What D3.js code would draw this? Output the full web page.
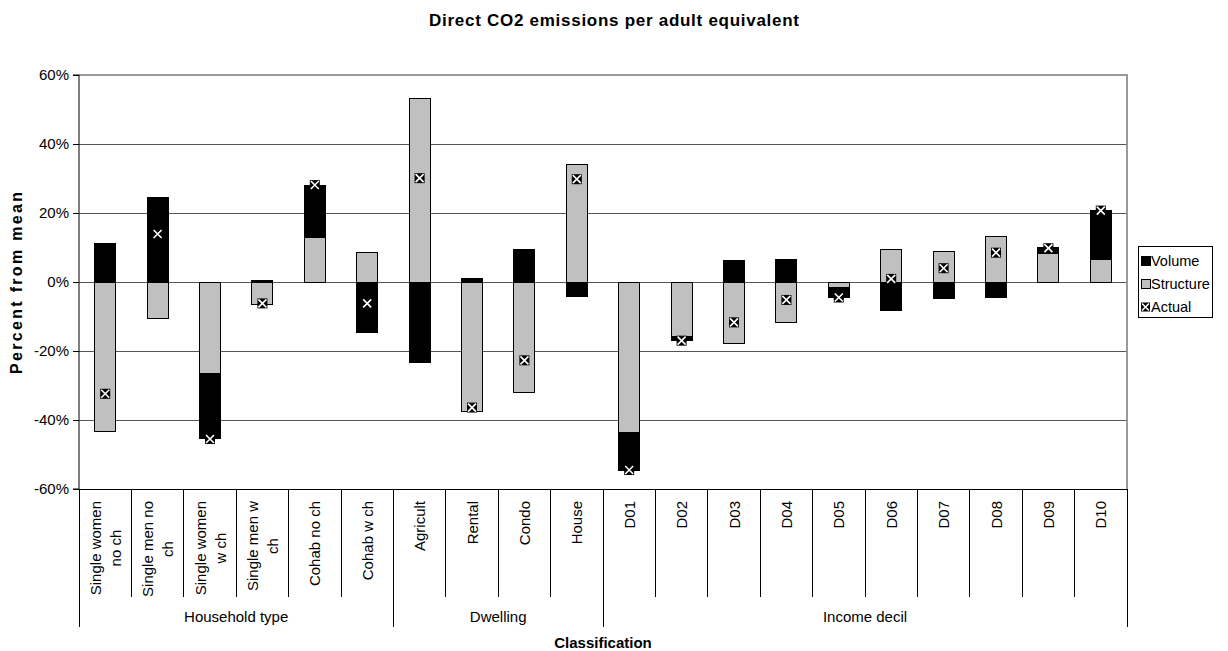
<!DOCTYPE html>
<html>
<head>
<meta charset="utf-8">
<script src="https://cdn.jsdelivr.net/npm/d3@7"></script>
<style>
  body { margin: 0; background: #fff; }
  text { font-family: "Liberation Sans", Arial, sans-serif; fill: #000; }
</style>
</head>
<body>
<svg id="chart" width="1228" height="651"></svg>
<script>
// Decomposition of direct CO2 emissions per adult equivalent (percent from mean)
const categories = [
  "Single women no ch", "Single men no ch", "Single women w ch", "Single men w ch",
  "Cohab no ch", "Cohab w ch",
  "Agricult", "Rental", "Condo", "House",
  "D01", "D02", "D03", "D04", "D05", "D06", "D07", "D08", "D09", "D10"
];
const groupNames = ["Household type", "Dwelling", "Income decil"];
const groupSizes = [6, 4, 10];

const structure = [-43.4, -10.6, -26.6, -6.5, 12.9, 8.6, 53.3, -37.4, -32.0, 34.0,
                   -43.7, -15.8, -17.9, -11.7, -1.5, 9.3, 8.9, 13.1, 8.3, 6.6];
const volume    = [11.1, 24.6, -18.9, 0.3, 15.2, -14.7, -23.2, 1.0, 9.4, -4.3,
                   -10.8, -1.3, 6.2, 6.6, -3.0, -8.4, -4.9, -4.6, 1.6, 14.2];
const actual    = [-32.4, 13.9, -45.5, -6.2, 28.1, -6.2, 30.1, -36.4, -22.7, 29.8,
                   -54.5, -17.0, -11.7, -5.2, -4.5, 0.9, 4.0, 8.5, 9.8, 20.7];

const yTicks = [-60, -40, -20, 0, 20, 40, 60];
const legendNames = ["Volume", "Structure", "Actual"];

const W = 1228, H = 651;
const plot = { left: 79, right: 1127, top: 75, bottom: 489 };
const FS = 15;

const svg = d3.select("#chart");

const x = d3.scaleBand()
  .domain(categories)
  .range([plot.left, plot.right])
  .paddingInner(0.6)
  .paddingOuter(0.3);
const step = x.step();
const cellLeft = i => plot.left + i * step;

const y = d3.scaleLinear().domain([-60, 60]).range([plot.bottom, plot.top]);

// Title
svg.append("text")
  .attr("x", W / 2 - 185).attr("y", 26)
  .attr("font-size", 17).attr("font-weight", "bold")
  .attr("textLength", 370).attr("lengthAdjust", "spacing")
  .text("Direct CO2 emissions per adult equivalent");

// Gridlines
svg.append("g").selectAll("line")
  .data(yTicks.filter(t => t !== 60))
  .join("line")
  .attr("x1", plot.left).attr("x2", plot.right)
  .attr("y1", d => y(d)).attr("y2", d => y(d))
  .attr("stroke", "#555").attr("stroke-width", 1)
  .attr("shape-rendering", "crispEdges");

// Plot area border (top and right)
svg.append("path")
  .attr("d", `M${plot.left},${plot.top}H${plot.right}V${plot.bottom}`)
  .attr("fill", "none").attr("stroke", "#999").attr("stroke-width", 1.5)
  .attr("shape-rendering", "crispEdges");

// Stacked bars: structure first, then volume, diverging around zero
const rows = categories.map((c, i) => ({ cat: c, Structure: structure[i], Volume: volume[i] }));
const stacked = d3.stack().keys(["Structure", "Volume"]).offset(d3.stackOffsetDiverging)(rows);
const fills = { Structure: "#c0c0c0", Volume: "#000000" };

svg.append("g").selectAll("g")
  .data(stacked)
  .join("g")
  .attr("fill", s => fills[s.key])
  .selectAll("rect")
  .data(s => s)
  .join("rect")
  .attr("x", d => x(d.data.cat))
  .attr("width", x.bandwidth())
  .attr("y", d => y(Math.max(d[0], d[1])))
  .attr("height", d => Math.abs(y(d[0]) - y(d[1])))
  .attr("stroke", "#000").attr("stroke-width", 1)
  .attr("shape-rendering", "crispEdges");

// Actual markers: black square with white cross
function drawMarker(g, cx, cy, s) {
  g.append("rect").attr("x", cx - s / 2).attr("y", cy - s / 2)
    .attr("width", s).attr("height", s).attr("fill", "#000");
  g.append("path")
    .attr("d", `M${cx - s / 2 + 1},${cy - s / 2 + 1}L${cx + s / 2 - 1},${cy + s / 2 - 1}M${cx + s / 2 - 1},${cy - s / 2 + 1}L${cx - s / 2 + 1},${cy + s / 2 - 1}`)
    .attr("stroke", "#fff").attr("stroke-width", 1.6);
}
const markers = svg.append("g");
actual.forEach((v, i) => drawMarker(markers, x(categories[i]) + x.bandwidth() / 2, y(v), 10));

// Y axis
const yAxis = svg.append("g")
  .attr("transform", `translate(${plot.left},0)`)
  .call(d3.axisLeft(y).tickValues(yTicks).tickFormat(d => d + "%").tickSize(6).tickPadding(4));
yAxis.select(".domain").attr("stroke", "#000").attr("d", `M-6,${plot.top}H0V${plot.bottom}H-6`);
yAxis.selectAll(".tick line").attr("stroke", "#000");
yAxis.selectAll("text").attr("font-size", FS).attr("font-family", "Liberation Sans, Arial, sans-serif");

svg.append("text")
  .attr("transform", `translate(22,${283 + 91}) rotate(-90)`)
  .attr("font-size", 16).attr("font-weight", "bold")
  .attr("textLength", 182).attr("lengthAdjust", "spacing")
  .text("Percent from mean");

// Category axis line
svg.append("line")
  .attr("x1", plot.left).attr("x2", plot.right)
  .attr("y1", plot.bottom).attr("y2", plot.bottom)
  .attr("stroke", "#000").attr("shape-rendering", "crispEdges");

// Category separators (longer at group boundaries)
const groupEnds = d3.cumsum(groupSizes);
const boundaries = d3.range(categories.length + 1);
svg.append("g").selectAll("line")
  .data(boundaries)
  .join("line")
  .attr("x1", i => cellLeft(i)).attr("x2", i => cellLeft(i))
  .attr("y1", plot.bottom)
  .attr("y2", i => (i === 0 || groupEnds.includes(i)) ? 627 : 597)
  .attr("stroke", "#000").attr("shape-rendering", "crispEdges");

// Wrap category names into lines no wider than maxW
const measure = svg.append("text").attr("font-size", FS).attr("visibility", "hidden");
function textWidth(s) { measure.text(s); return measure.node().getComputedTextLength(); }
function wrap(label, maxW) {
  const words = label.split(" ");
  const lines = [];
  let cur = words[0];
  for (let k = 1; k < words.length; k++) {
    const trial = cur + " " + words[k];
    if (textWidth(trial) > maxW) { lines.push(cur); cur = words[k]; }
    else cur = trial;
  }
  lines.push(cur);
  return lines;
}

const lineH = 20;
const labelTop = 501;
categories.forEach((c, i) => {
  const lines = wrap(c, 104);
  const maxLen = d3.max(lines, textWidth);
  const cx = cellLeft(i) + step / 2;
  const t = svg.append("text")
    .attr("transform", `translate(${cx},${labelTop}) rotate(-90)`)
    .attr("text-anchor", "middle")
    .attr("font-size", FS);
  lines.forEach((ln, k) => {
    t.append("tspan")
      .attr("x", -maxLen / 2)
      .attr("y", (k - (lines.length - 1) / 2) * lineH)
      .attr("dominant-baseline", "central")
      .text(ln);
  });
});
measure.remove();

// Group labels
let start = 0;
groupNames.forEach((g, k) => {
  const cx = (cellLeft(start) + cellLeft(start + groupSizes[k])) / 2;
  svg.append("text")
    .attr("x", cx).attr("y", 622)
    .attr("text-anchor", "middle")
    .attr("font-size", FS)
    .text(g);
  start += groupSizes[k];
});

svg.append("text")
  .attr("x", (plot.left + plot.right) / 2).attr("y", 648)
  .attr("text-anchor", "middle")
  .attr("font-size", FS).attr("font-weight", "bold")
  .text("Classification");

// Legend
const lg = svg.append("g");
lg.append("rect")
  .attr("x", 1138).attr("y", 246).attr("width", 74).attr("height", 71)
  .attr("fill", "#fff").attr("stroke", "#000").attr("shape-rendering", "crispEdges");
const legendY = [261, 284, 307];
legendNames.forEach((name, k) => {
  const cy = legendY[k];
  if (name === "Actual") {
    drawMarker(lg, 1145.5, cy, 9);
  } else {
    lg.append("rect")
      .attr("x", 1141).attr("y", cy - 4.5).attr("width", 9).attr("height", 9)
      .attr("fill", name === "Volume" ? "#000" : "#c0c0c0")
      .attr("stroke", "#000").attr("shape-rendering", "crispEdges");
  }
  lg.append("text")
    .attr("x", 1151).attr("y", cy)
    .attr("dominant-baseline", "central")
    .attr("font-size", 14.5)
    .text(name);
});
</script>
</body>
</html>
